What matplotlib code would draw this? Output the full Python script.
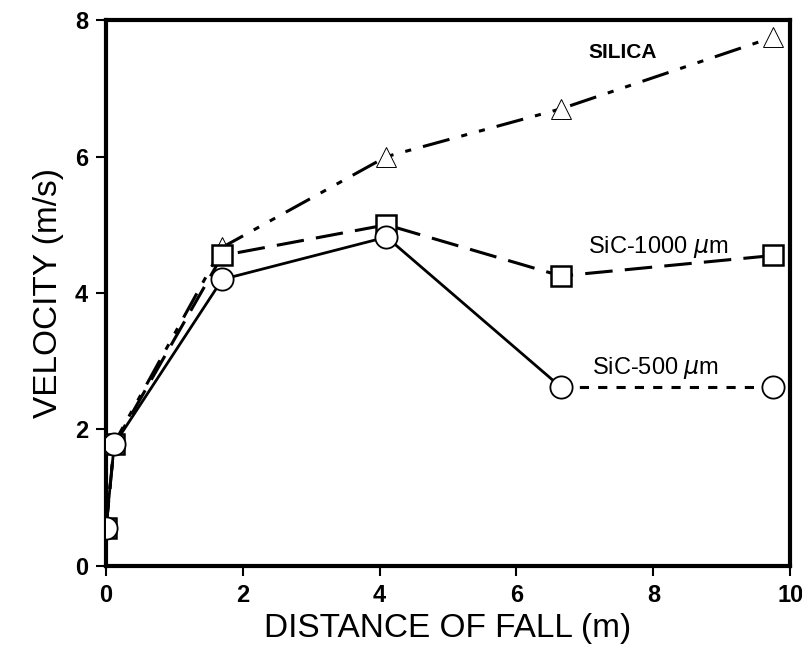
"""Falling velocity vs distance of fall for silica and SiC particles."""

import matplotlib

matplotlib.use("Agg")
import matplotlib.pyplot as plt

plt.rcParams["font.family"] = ["Liberation Sans", "DejaVu Sans"]
plt.rcParams["mathtext.fontset"] = "dejavusans"

distance = [0.0, 0.12, 1.7, 4.1, 6.65, 9.75]
silica = [0.55, 1.8, 4.67, 6.0, 6.7, 7.75]
sic_1000 = [0.55, 1.78, 4.55, 5.0, 4.25, 4.55]
sic_500 = [0.55, 1.78, 4.2, 4.82, 2.62, 2.62]

x_ticks = [0, 2, 4, 6, 8, 10]
y_ticks = [0, 2, 4, 6, 8]

fig = plt.figure(figsize=(8.03, 6.49), dpi=100)
ax = fig.add_axes([0.132, 0.128, 0.852, 0.841])

# silica: long dash, dot, dot
ax.plot(distance, silica, color="black", lw=2.2,
        dashes=(9, 4, 2, 4, 2, 4), zorder=2)
ax.plot(distance, silica, ls="none", marker="^", ms=14, mfc="white",
        mec="black", mew=0.7, zorder=3)

ax.plot(distance, sic_1000, color="black", lw=2.2, dashes=(9, 4), zorder=2)
ax.plot(distance, sic_1000, ls="none", marker="s", ms=15, mfc="white",
        mec="black", mew=1.8, zorder=4)

# SiC-500: solid up to 6.65 m, dotted beyond
ax.plot(distance[:5], sic_500[:5], color="black", lw=2.0, zorder=2)
ax.plot(distance[4:], sic_500[4:], color="black", lw=2.2, dashes=(3, 3), zorder=2)
ax.plot(distance, sic_500, ls="none", marker="o", ms=16, mfc="white",
        mec="black", mew=1.3, zorder=5)

ax.text(7.05, 7.52, "SILICA", fontsize=15, fontweight="bold", va="center")
ax.text(7.05, 4.67, r"SiC-1000 $\mu$m", fontsize=17, va="center")
ax.text(7.1, 2.9, r"SiC-500 $\mu$m", fontsize=17, va="center")

ax.set_xlim(0, 10)
ax.set_ylim(0, 8)
ax.set_xticks(x_ticks)
ax.set_yticks(y_ticks)
ax.tick_params(direction="out", length=7, width=1.5, labelsize=17, pad=6)
for lab in ax.get_xticklabels() + ax.get_yticklabels():
    lab.set_fontweight("bold")
for side in ["left", "right", "top", "bottom"]:
    ax.spines[side].set_linewidth(3)

ax.set_xlabel("DISTANCE OF FALL (m)", fontsize=24, labelpad=4)
ax.set_ylabel("VELOCITY (m/s)", fontsize=24, labelpad=8)

fig.savefig("out.png", dpi=100)
